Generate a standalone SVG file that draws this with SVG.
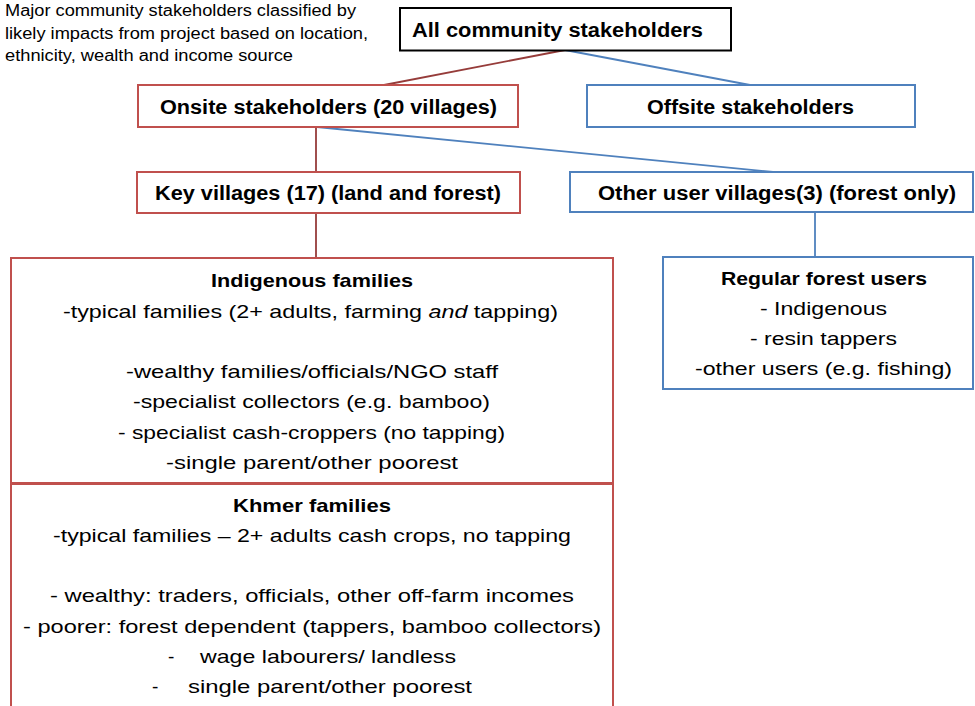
<svg xmlns="http://www.w3.org/2000/svg" width="975" height="706" viewBox="0 0 975 706">
<style>
text{font-family:"Liberation Sans",Arial,sans-serif;fill:#000;}
.t{font-size:16px;}
.h{font-size:20px;font-weight:bold;}
.b{font-size:19px;}
.hb{font-size:19px;font-weight:bold;}
.red{fill:#fff;stroke:#C0504D;stroke-width:2;}
.blue{fill:#fff;stroke:#4F81BD;stroke-width:2;}
.blk{fill:#fff;stroke:#000;stroke-width:2;}
.cr{stroke:#963C3A;stroke-width:1.8;fill:none;}
.cb{stroke:#4F81BD;stroke-width:1.8;fill:none;}
</style>
<rect width="975" height="706" fill="#fff"/>
<g id="caption">
<text class="t" x="5" y="16" textLength="351" lengthAdjust="spacingAndGlyphs">Major community stakeholders classified by</text>
<text class="t" x="5" y="38.5" textLength="363" lengthAdjust="spacingAndGlyphs">likely impacts from project based on location,</text>
<text class="t" x="5" y="61" textLength="288" lengthAdjust="spacingAndGlyphs">ethnicity, wealth and income source</text>
</g>
<g id="connectors">
<line class="cr" x1="565" y1="50" x2="384" y2="85"/>
<line class="cb" x1="565" y1="50" x2="750" y2="85"/>
<line class="cr" x1="316" y1="127" x2="316" y2="172"/>
<line class="cb" x1="317" y1="127" x2="773" y2="172"/>
<line class="cr" x1="316" y1="213" x2="316" y2="258"/>
<line class="cb" x1="815" y1="212" x2="815" y2="257"/>
</g>
<g id="all">
<rect class="blk" x="400" y="8" width="331" height="42.5"/>
<text class="h" x="412" y="37" textLength="291" lengthAdjust="spacingAndGlyphs">All community stakeholders</text>
</g>
<g id="onsite">
<rect class="red" x="138" y="85" width="380" height="42"/>
<text class="h" x="160" y="114" textLength="337" lengthAdjust="spacingAndGlyphs">Onsite stakeholders (20 villages)</text>
</g>
<g id="offsite">
<rect class="blue" x="587" y="85" width="328" height="42"/>
<text class="h" x="647" y="114" textLength="207" lengthAdjust="spacingAndGlyphs">Offsite stakeholders</text>
</g>
<g id="key">
<rect class="red" x="137" y="172" width="383" height="41"/>
<text class="h" x="155" y="200" textLength="346" lengthAdjust="spacingAndGlyphs">Key villages (17) (land and forest)</text>
</g>
<g id="other">
<rect class="blue" x="570" y="172" width="403" height="40"/>
<text class="h" x="598" y="200" textLength="358" lengthAdjust="spacingAndGlyphs">Other user villages(3) (forest only)</text>
</g>
<g id="regular">
<rect class="blue" x="663" y="257" width="310" height="132"/>
<text class="hb" x="721" y="285" textLength="206" lengthAdjust="spacingAndGlyphs">Regular forest users</text>
<text class="b" x="760" y="315" textLength="127" lengthAdjust="spacingAndGlyphs">- Indigenous</text>
<text class="b" x="750" y="345" textLength="147" lengthAdjust="spacingAndGlyphs">- resin tappers</text>
<text class="b" x="695" y="375" textLength="257" lengthAdjust="spacingAndGlyphs">-other users (e.g. fishing)</text>
</g>
<g id="indigenous">
<rect class="red" x="11" y="258" width="602" height="225"/>
<text class="hb" x="211" y="287" textLength="202" lengthAdjust="spacingAndGlyphs">Indigenous families</text>
<text class="b" x="63" y="318" textLength="495" lengthAdjust="spacingAndGlyphs">-typical families (2+ adults, farming <tspan font-style="italic">and</tspan> tapping)</text>
<text class="b" x="126" y="378" textLength="372" lengthAdjust="spacingAndGlyphs">-wealthy families/officials/NGO staff</text>
<text class="b" x="133" y="408" textLength="357" lengthAdjust="spacingAndGlyphs">-specialist collectors (e.g. bamboo)</text>
<text class="b" x="118" y="439" textLength="387" lengthAdjust="spacingAndGlyphs">- specialist cash-croppers (no tapping)</text>
<text class="b" x="166" y="469" textLength="292" lengthAdjust="spacingAndGlyphs">-single parent/other poorest</text>
</g>
<g id="khmer">
<rect class="red" x="11" y="484" width="602" height="240"/>
<text class="hb" x="233" y="512" textLength="158" lengthAdjust="spacingAndGlyphs">Khmer families</text>
<text class="b" x="53" y="542" textLength="518" lengthAdjust="spacingAndGlyphs">-typical families – 2+ adults cash crops, no tapping</text>
<text class="b" x="50" y="602" textLength="524" lengthAdjust="spacingAndGlyphs">- wealthy: traders, officials, other off-farm incomes</text>
<text class="b" x="23" y="633" textLength="578" lengthAdjust="spacingAndGlyphs">- poorer: forest dependent (tappers, bamboo collectors)</text>
<text class="b" x="168" y="663">-</text>
<text class="b" x="200" y="663" textLength="256" lengthAdjust="spacingAndGlyphs">wage labourers/ landless</text>
<text class="b" x="152" y="693">-</text>
<text class="b" x="188" y="693" textLength="284" lengthAdjust="spacingAndGlyphs">single parent/other poorest</text>
</g>
</svg>
